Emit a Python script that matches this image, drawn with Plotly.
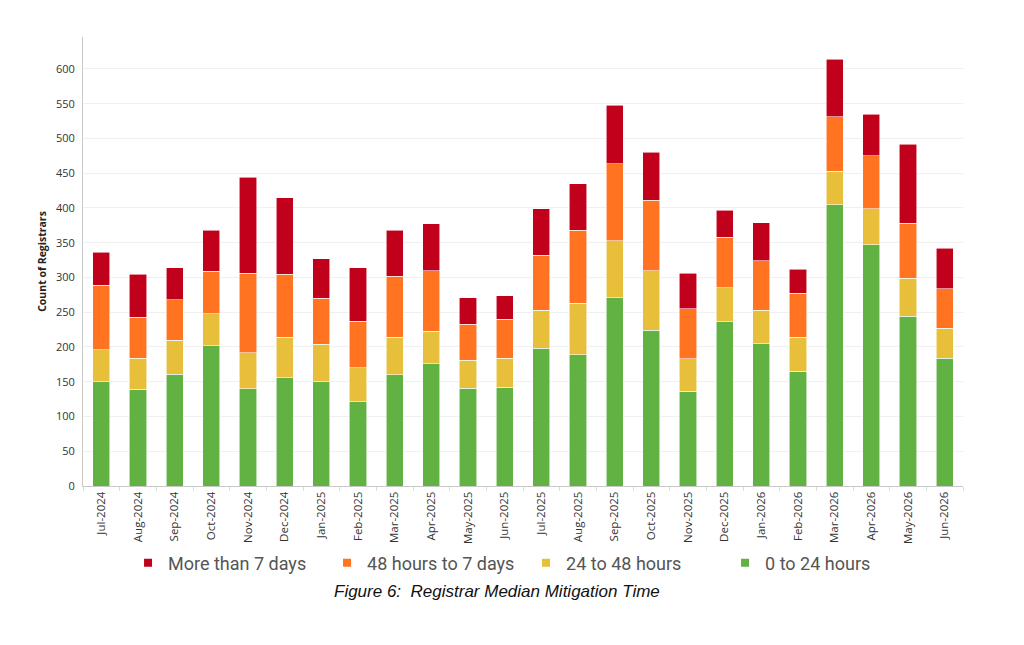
import plotly.graph_objects as go

months = ["Jul-2024", "Aug-2024", "Sep-2024", "Oct-2024", "Nov-2024", "Dec-2024",
          "Jan-2025", "Feb-2025", "Mar-2025", "Apr-2025", "May-2025", "Jun-2025",
          "Jul-2025", "Aug-2025", "Sep-2025", "Oct-2025", "Nov-2025", "Dec-2025",
          "Jan-2026", "Feb-2026", "Mar-2026", "Apr-2026", "May-2026", "Jun-2026"]

h0_24 = [150, 139, 161, 202, 140, 156, 150, 121, 160, 176, 141, 142,
         198, 189, 271, 224, 136, 236, 205, 165, 405, 347, 244, 184]
h24_48 = [46, 45, 49, 46, 52, 58, 54, 49, 54, 47, 40, 42,
          55, 74, 82, 86, 47, 49, 48, 49, 48, 52, 55, 43]
h48_7d = [93, 59, 58, 61, 114, 91, 66, 67, 88, 87, 52, 56,
          79, 105, 111, 101, 72, 73, 71, 63, 78, 76, 79, 57]
more7d = [47, 62, 46, 59, 138, 110, 57, 77, 66, 67, 38, 34,
          67, 67, 84, 69, 51, 39, 55, 35, 83, 60, 114, 58]

series = [
    ("0 to 24 hours", h0_24, "#62B143"),
    ("24 to 48 hours", h24_48, "#E7BF3B"),
    ("48 hours to 7 days", h48_7d, "#FF7321"),
    ("More than 7 days", more7d, "#C1001C"),
]

fig = go.Figure()
for name, vals, color in series:
    fig.add_trace(go.Bar(
        x=months, y=vals, name=name, legendgroup=name, showlegend=False,
        marker=dict(color=color, line=dict(color="rgba(255,255,255,0.7)", width=0.8)),
    ))

# legend entries (small square symbols), ordered as in the reference
for name, vals, color in reversed(series):
    fig.add_trace(go.Scatter(
        x=[None], y=[None], mode="markers", name=name, legendgroup=name,
        marker=dict(symbol="square", size=8, color=color),
    ))

fig.update_layout(
    width=1024, height=645,
    barmode="stack", bargap=0.536,
    plot_bgcolor="white", paper_bgcolor="white",
    margin=dict(l=75, r=69, t=29, b=167),
    font=dict(family="Open Sans, sans-serif", color="#333333"),
    showlegend=True,
    legend=dict(
        orientation="h", x=0.0512, xanchor="left", y=-0.1715, yanchor="middle",
        font=dict(family="Roboto, sans-serif", size=18, color="#555555"),
        entrywidth=154, traceorder="normal", bgcolor="rgba(0,0,0,0)",
    ),
    annotations=[dict(
        text="<i>Figure 6:  Registrar Median Mitigation Time</i>",
        xref="paper", yref="paper", x=0.4705, y=-0.2339,
        xanchor="center", yanchor="middle", showarrow=False,
        font=dict(family="Liberation Sans, Arial, sans-serif", size=17, color="#111111"),
    )],
)

fig.update_xaxes(
    type="category", tickangle=-90,
    tickfont=dict(size=11.5, color="#333333"),
    showline=True, linecolor="#c8c8c8", linewidth=1,
    ticks="outside", tickson="boundaries", ticklen=4, tickcolor="#dddddd",
    showgrid=False,
)
fig.update_yaxes(
    range=[0, 646], dtick=50, tick0=0,
    tickfont=dict(size=11, color="#333333"),
    showgrid=True, gridcolor="#f0f0f0", gridwidth=1,
    showline=True, linecolor="#c8c8c8", linewidth=1,
    zeroline=False, ticks="", ticklabelstandoff=5,
    title=dict(text="<b>Count of Registrars</b>", font=dict(size=10.5, color="#222222"), standoff=7),
)

fig.write_html("out.html")
